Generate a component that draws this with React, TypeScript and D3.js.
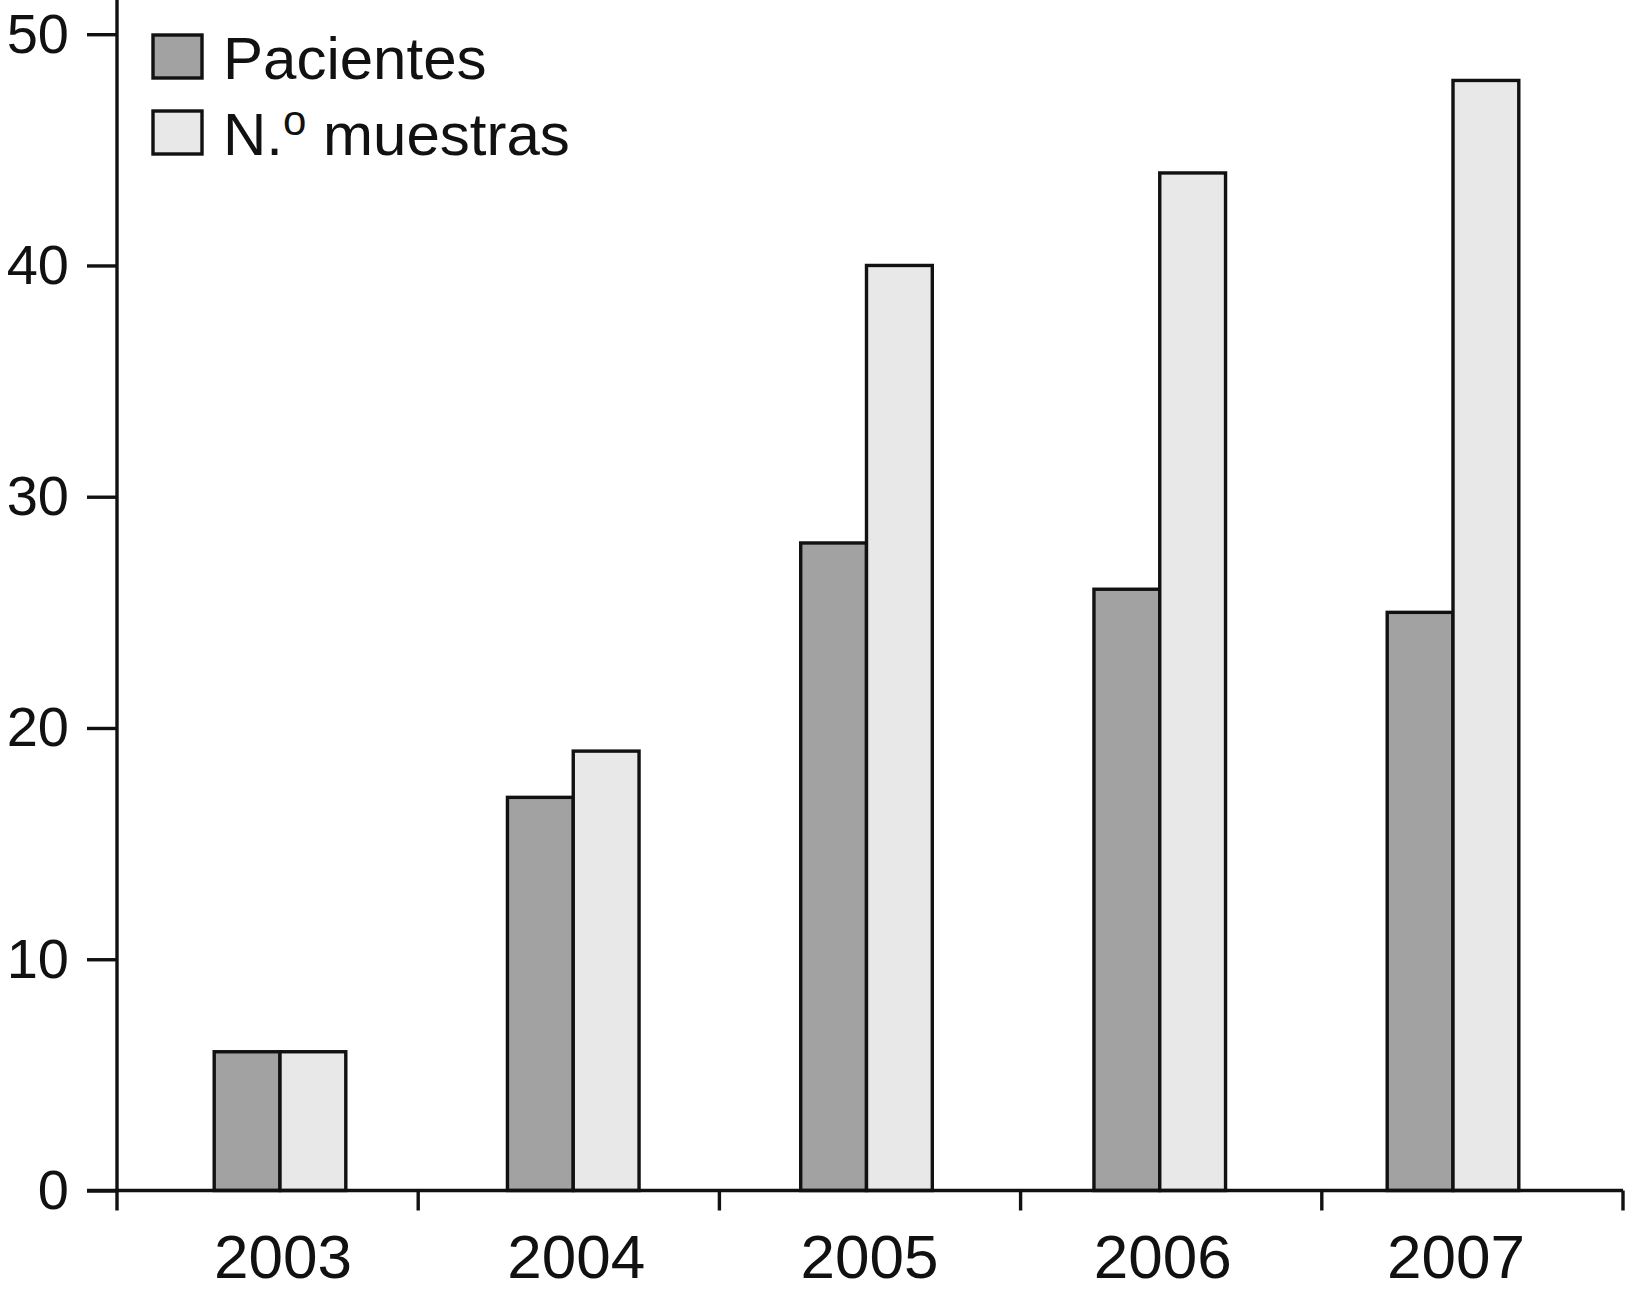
import { useEffect, useRef } from "react";
import * as d3 from "d3";

// datos
const years = ["2003", "2004", "2005", "2006", "2007"];
const pacientes = [6, 17, 28, 26, 25];
const muestras = [6, 19, 40, 44, 48];
const yTicks = [0, 10, 20, 30, 40, 50];

const W = 1626;
const H = 1291;
const FONT = "'Liberation Sans', Arial, Helvetica, sans-serif";

const App = () => {
  const ref = useRef<SVGSVGElement | null>(null);

  useEffect(() => {
    document.body.style.margin = "0";
    const svg = d3.select(ref.current);
    svg.selectAll("*").remove();

    const x0 = 117;
    const x1 = 1623;
    const yScale = d3.scaleLinear().domain([0, 50]).range([1190.5, 34.2]);

    // bandas de categorías (para las marcas del eje x)
    const band = d3.scaleBand().domain(years).range([x0, x1]).padding(0);
    // centros de los grupos de barras
    const center = d3.scalePoint().domain(years).range([280, 1453]);
    const barW = 65.8;
    const series = d3.scaleBand().domain(["p", "m"]).range([-barW, barW]).padding(0);

    const g = svg.append("g");
    const SW = 3.4;

    // barras
    const groups = g
      .selectAll("g.year")
      .data(years)
      .enter()
      .append("g")
      .attr("transform", (d) => `translate(${center(d)},0)`);

    groups
      .append("rect")
      .attr("x", series("p")!)
      .attr("y", (_, i) => yScale(pacientes[i]))
      .attr("width", series.bandwidth())
      .attr("height", (_, i) => yScale(0) - yScale(pacientes[i]))
      .attr("fill", "#a2a2a2")
      .attr("stroke", "#111")
      .attr("stroke-width", SW);

    groups
      .append("rect")
      .attr("x", series("m")!)
      .attr("y", (_, i) => yScale(muestras[i]))
      .attr("width", series.bandwidth())
      .attr("height", (_, i) => yScale(0) - yScale(muestras[i]))
      .attr("fill", "#e8e8e8")
      .attr("stroke", "#111")
      .attr("stroke-width", SW);

    // eje y
    const yAxis = g
      .append("g")
      .attr("transform", `translate(${x0},0)`)
      .call(d3.axisLeft(yScale).tickValues(yTicks).tickSize(30).tickPadding(18));
    yAxis.select(".domain").remove();
    yAxis.selectAll(".tick line").attr("stroke", "#111").attr("stroke-width", SW);
    yAxis
      .selectAll(".tick text")
      .attr("font-family", FONT)
      .attr("font-size", 56)
      .attr("fill", "#111");

    g.append("line")
      .attr("x1", x0)
      .attr("x2", x0)
      .attr("y1", 0)
      .attr("y2", yScale(0))
      .attr("stroke", "#111")
      .attr("stroke-width", SW);

    // eje x
    g.append("line")
      .attr("x1", x0 - 30)
      .attr("x2", x1)
      .attr("y1", yScale(0))
      .attr("y2", yScale(0))
      .attr("stroke", "#111")
      .attr("stroke-width", SW);

    const bounds = [...years.map((d) => band(d)!), x1];
    g.selectAll("line.xt")
      .data(bounds)
      .enter()
      .append("line")
      .attr("x1", (d) => d)
      .attr("x2", (d) => d)
      .attr("y1", yScale(0))
      .attr("y2", yScale(0) + 20)
      .attr("stroke", "#111")
      .attr("stroke-width", SW);

    g.selectAll("text.xl")
      .data(years)
      .enter()
      .append("text")
      .attr("x", (d) => center(d)! + 3)
      .attr("y", 1278)
      .attr("text-anchor", "middle")
      .attr("font-family", FONT)
      .attr("font-size", 62)
      .attr("fill", "#111")
      .text((d) => d);

    // leyenda
    const legend = [
      { label: "Pacientes", fill: "#a2a2a2" },
      { label: "N.", sup: "o", rest: " muestras", fill: "#e8e8e8" },
    ];
    const lg = g
      .selectAll("g.leg")
      .data(legend)
      .enter()
      .append("g")
      .attr("transform", (_, i) => `translate(153,${35 + i * 76})`);
    lg.append("rect")
      .attr("width", 49)
      .attr("height", 43)
      .attr("fill", (d) => d.fill)
      .attr("stroke", "#111")
      .attr("stroke-width", SW);
    const t = lg
      .append("text")
      .attr("x", 70)
      .attr("y", 44)
      .attr("font-family", FONT)
      .attr("font-size", 60)
      .attr("fill", "#111");
    t.append("tspan").text((d) => d.label);
    t.filter((d) => !!d.sup)
      .append("tspan")
      .attr("font-size", 42)
      .attr("dy", -20)
      .text((d) => d.sup!);
    t.filter((d) => !!d.rest)
      .append("tspan")
      .attr("dy", 20)
      .text((d) => d.rest!);
  }, []);

  return <svg ref={ref} width={W} height={H} style={{ display: "block", background: "#fff" }} />;
};

export default App;
